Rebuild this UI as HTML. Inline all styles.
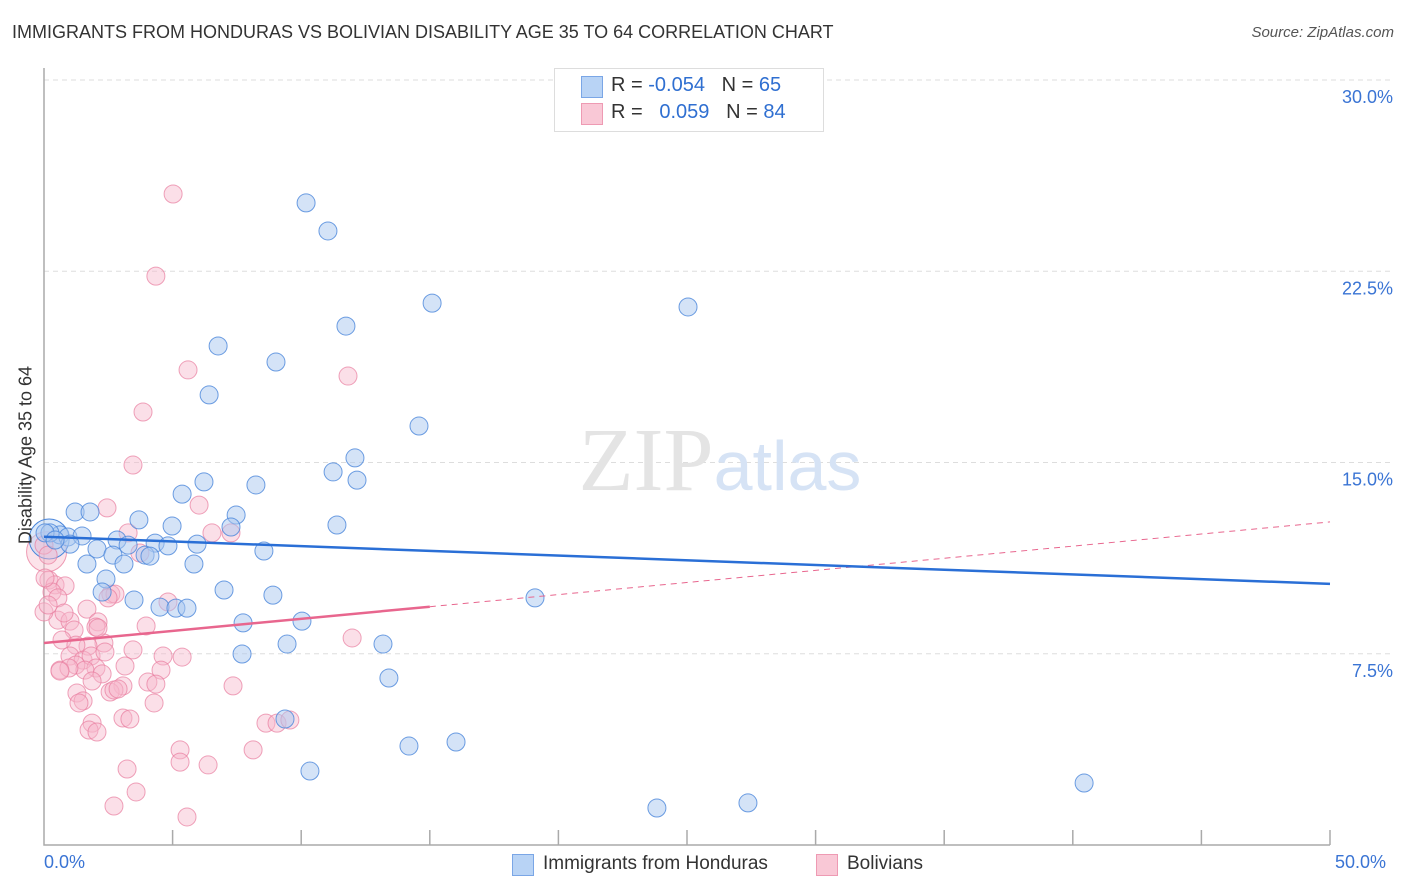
<!DOCTYPE html>
<html><head><meta charset="utf-8"><style>
body{margin:0;background:#fff;font-family:"Liberation Sans",sans-serif;}
#wrap{position:relative;width:1406px;height:892px;overflow:hidden;}
.t{position:absolute;white-space:nowrap;}
</style></head><body>
<div id="wrap">
<div class="t" style="left:12px;top:22px;font-size:18px;color:#333;">IMMIGRANTS FROM HONDURAS VS BOLIVIAN DISABILITY AGE 35 TO 64 CORRELATION CHART</div>
<div class="t" style="right:12px;top:24px;font-size:15px;color:#555;font-style:italic;">Source: ZipAtlas.com</div>
<svg id="chart" width="1406" height="892" style="position:absolute;left:0;top:0"></svg>
<div style="position:absolute;left:554px;top:68px;width:268px;height:62px;border:1px solid #ddd;background:#fff;">
 <div style="position:absolute;left:26px;top:7px;width:20px;height:20px;background:#b8d3f5;border:1px solid #7aa6e6;"></div>
 <div class="t" style="left:56px;top:5px;font-size:20px;color:#333;">R = <span style="color:#2f6fd1">-0.054</span>&nbsp;&nbsp;&nbsp;N = <span style="color:#2f6fd1">65</span></div>
 <div style="position:absolute;left:26px;top:34px;width:20px;height:20px;background:#f9c8d6;border:1px solid #ee9ab3;"></div>
 <div class="t" style="left:56px;top:32px;font-size:20px;color:#333;">R = &nbsp;&nbsp;<span style="color:#2f6fd1">0.059</span>&nbsp;&nbsp;&nbsp;N = <span style="color:#2f6fd1">84</span></div>
</div>
<div class="t" style="left:26px;top:455px;font-size:18px;color:#333;transform:translate(-50%,-50%) rotate(-90deg);transform-origin:center;">Disability Age 35 to 64</div>
<div class="t" style="left:44px;top:852px;font-size:18px;color:#3a74d4;">0.0%</div>
<div class="t" style="left:1335px;top:852px;font-size:18px;color:#3a74d4;">50.0%</div>
<div style="position:absolute;left:512px;top:854px;">
 <div style="position:absolute;left:0;top:0;width:20px;height:20px;background:#b8d3f5;border:1px solid #7aa6e6;"></div>
 <div class="t" style="left:31px;top:-1px;font-size:19px;color:#333;">Immigrants from Honduras</div></div>
<div style="position:absolute;left:816px;top:854px;">
 <div style="position:absolute;left:0;top:0;width:20px;height:20px;background:#f9c8d6;border:1px solid #ee9ab3;"></div>
 <div class="t" style="left:31px;top:-1px;font-size:19px;color:#333;">Bolivians</div></div>
</div>
<script>
const yTicks=[7.5,15,22.5,30];
const yTickLabels=["7.5%","15.0%","22.5%","30.0%"];
const xTicks=[0,5,10,15,20,25,30,35,40,45,50];
const bluePx=[[306,203],[328,231],[432,303],[688,307],[346,326],[218,346],[276,362],[209,395],[419,426],[355,458],[333,472],[357,480],[204,482],[256,485],[182,494],[75,512],[90,512],[139,520],[236,515],[172,526],[231,527],[337,525],[60,535],[68,537],[50,533],[82,536],[117,540],[128,545],[155,543],[168,546],[70,544],[97,549],[197,544],[264,551],[113,555],[145,555],[150,556],[87,564],[124,564],[194,564],[106,579],[224,590],[102,592],[273,595],[535,598],[134,600],[160,607],[176,608],[187,608],[243,623],[302,621],[287,644],[383,644],[242,654],[389,678],[285,719],[409,746],[456,742],[310,771],[1084,783],[657,808],[748,803],[45,533],[55,540],[768,88]];
const pinkPx=[[173,194],[156,276],[188,370],[348,376],[143,412],[133,465],[107,508],[199,505],[212,533],[128,533],[231,533],[140,553],[49,580],[55,585],[65,586],[52,592],[58,598],[111,594],[115,594],[108,598],[87,609],[168,602],[58,620],[70,621],[98,622],[64,613],[146,626],[44,612],[48,605],[74,630],[96,627],[104,643],[88,646],[62,640],[76,645],[70,656],[83,660],[91,656],[133,650],[163,656],[182,657],[105,652],[76,665],[96,668],[85,670],[60,670],[69,668],[125,666],[161,670],[102,674],[60,671],[123,686],[148,682],[156,684],[233,686],[92,681],[77,693],[83,701],[110,692],[114,690],[118,689],[79,703],[154,703],[352,638],[123,718],[130,719],[92,723],[89,730],[97,732],[266,723],[277,723],[290,720],[180,750],[180,762],[253,750],[208,765],[127,769],[136,792],[114,806],[187,817],[44,545],[48,555],[45,578],[98,628]];
// data values (x %, y %)
const blueX=bluePx.map(p=>+((p[0]-44)/25.72).toFixed(2));
const blueY=bluePx.map(p=>+((845-p[1])/25.5).toFixed(2));
const pinkX=pinkPx.map(p=>+((p[0]-44)/25.72).toFixed(2));
const pinkY=pinkPx.map(p=>+((845-p[1])/25.5).toFixed(2));
const blueTrend=[12.09,10.24]; // y at x=0 and x=50
const pinkTrend=[7.92,12.67];
const pinkSolidEnd=15;
const X=v=>44+v*25.72, Y=v=>845-v*25.5;
const svg=document.getElementById('chart');const NS='http://www.w3.org/2000/svg';
function mk(t,a){const e=document.createElementNS(NS,t);for(const k in a)e.setAttribute(k,a[k]);svg.appendChild(e);return e;}
yTicks.forEach((v,i)=>{
 const g=mk('line',{x1:44,x2:1392,y1:Y(v),y2:Y(v),stroke:'#ddd','stroke-dasharray':'5,4'});
 
 
 const t=mk('text',{x:1393,y:Y(v)+23,'text-anchor':'end','font-size':18,fill:'#3a74d4','font-family':'Liberation Sans, sans-serif'});
 t.textContent=yTickLabels[i];
 
 
});
const wm=mk('text',{x:720,y:490,'text-anchor':'middle','font-size':90,fill:'#e4e4e4','font-family':'Liberation Serif, serif'});
wm.innerHTML='ZIP<tspan fill="#d6e3f5" font-family="Liberation Sans, sans-serif" font-size="70">atlas</tspan>';


const ax=mk('path',{d:'M44 68 V845 H1330',stroke:'#aaa',fill:'none','stroke-width':1.5});


xTicks.forEach(v=>{if(v===0)return;const l=mk('line',{x1:X(v),x2:X(v),y1:830,y2:845,stroke:'#aaa','stroke-width':1.5});
 
 });
function big(cx,cy,fill,st){const c=mk('circle',{cx,cy,r:20,fill,stroke:st,'fill-opacity':0.5});
 
 }
big(X(0.1),Y(11.5),'#f9c8d6','#ee9ab3');big(X(0.2),Y(12.0),'#b8d3f5','#4a86db');
pinkX.forEach((x,i)=>{const c=mk('circle',{cx:X(x),cy:Y(pinkY[i]),r:9,fill:'#f7b8cb','fill-opacity':0.45,stroke:'#e87c9e','stroke-opacity':0.7});
 
 });
blueX.forEach((x,i)=>{const c=mk('circle',{cx:X(x),cy:Y(blueY[i]),r:9,fill:'#a9c8f0','fill-opacity':0.5,stroke:'#4a86db','stroke-opacity':0.8});
 
 });
const pm=(pinkTrend[1]-pinkTrend[0])/50;
let l=mk('line',{x1:X(pinkSolidEnd),y1:Y(pinkTrend[0]+pm*pinkSolidEnd),x2:X(50),y2:Y(pinkTrend[1]),stroke:'#e8668e','stroke-width':1,'stroke-dasharray':'6,5'});


l=mk('line',{x1:X(0),y1:Y(pinkTrend[0]),x2:X(pinkSolidEnd),y2:Y(pinkTrend[0]+pm*pinkSolidEnd),stroke:'#e8668e','stroke-width':2.5});


l=mk('line',{x1:X(0),y1:Y(blueTrend[0]),x2:X(50),y2:Y(blueTrend[1]),stroke:'#2a6fd6','stroke-width':2.5});


</script>
</body></html>
